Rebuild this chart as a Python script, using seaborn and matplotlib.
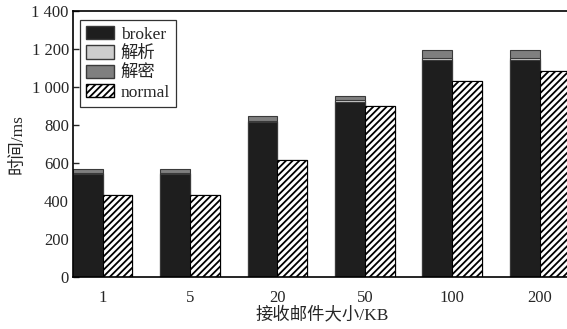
import pandas as pd
import matplotlib
matplotlib.use("Agg")
import matplotlib.pyplot as plt
import seaborn as sns
from matplotlib.patches import Patch
from matplotlib.ticker import FuncFormatter

sizes = ["1", "5", "20", "50", "100", "200"]
broker = [540, 540, 815, 920, 1140, 1140]
parse = [8, 8, 8, 10, 12, 12]
decrypt = [22, 22, 22, 25, 45, 45]
normal = [430, 430, 615, 900, 1030, 1085]

sns.set_theme(style="ticks")
plt.rcParams["font.family"] = ["Liberation Serif", "Noto Sans CJK SC"]
plt.rcParams["hatch.linewidth"] = 1.3
plt.rcParams["axes.unicode_minus"] = False

c_broker = "#1e1e1e"
c_parse = "#cdcdcd"
c_decrypt = "#7f7f7f"

fig = plt.figure(figsize=(5.67, 3.29), dpi=100)
ax = fig.add_axes([73 / 567, 1 - 277 / 329, 498 / 567, 266 / 329])

tot = [b + p + d for b, p, d in zip(broker, parse, decrypt)]
mid = [b + p for b, p in zip(broker, parse)]

# stacked broker column drawn as overlaid cumulative bars, normal next to it
for vals, col in [(tot, c_decrypt), (mid, c_parse), (broker, c_broker)]:
    df = pd.concat([
        pd.DataFrame({"size": sizes, "ms": vals, "kind": "broker"}),
        pd.DataFrame({"size": sizes, "ms": normal, "kind": "normal"}),
    ])
    n0 = len(ax.patches)
    sns.barplot(data=df, x="size", y="ms", hue="kind", order=sizes,
                hue_order=["broker", "normal"], palette={"broker": col, "normal": "white"},
                width=0.68, errorbar=None, edgecolor="#3a3a3a", linewidth=0.8,
                legend=False, ax=ax)

for p in ax.patches[n0:]:
    cx = p.get_x() + p.get_width() / 2
    if cx > round(cx):
        p.set_hatch("/////")
        p.set_edgecolor("black")

ax.set_xlim(-0.34, 5.36)
ax.set_ylim(0, 1400)
ax.set_yticks(range(0, 1401, 200))
ax.yaxis.set_major_formatter(FuncFormatter(lambda v, _: f"{int(v):,}".replace(",", " ")))
ax.tick_params(axis="y", direction="in", length=4, width=1, labelsize=12, pad=3)
ax.tick_params(axis="x", length=0, labelsize=12, pad=9)
for s in ax.spines.values():
    s.set_linewidth(1.2)
    s.set_color("black")

ax.set_xlabel("接收邮件大小/KB", fontsize=12.5, labelpad=1)
ax.set_ylabel("时间/ms", fontsize=12.5, labelpad=4)

handles = [
    Patch(facecolor=c_broker, edgecolor="#3a3a3a", label="broker"),
    Patch(facecolor=c_parse, edgecolor="#3a3a3a", label="解析"),
    Patch(facecolor=c_decrypt, edgecolor="#3a3a3a", label="解密"),
    Patch(facecolor="white", edgecolor="black", hatch="/////", label="normal"),
]
leg = ax.legend(handles=handles, loc="upper left", bbox_to_anchor=(7 / 498, 1 - 9 / 266),
                borderaxespad=0, fancybox=False, framealpha=1, edgecolor="#333333",
                fontsize=12.5, handlelength=1.6, handleheight=0.8, labelspacing=0.15,
                handletextpad=0.4, borderpad=0.35)
leg.get_frame().set_linewidth(0.9)

fig.savefig("out.png", dpi=100)
